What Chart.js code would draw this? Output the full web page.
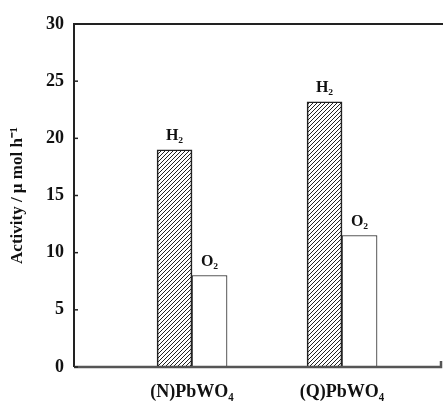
<!DOCTYPE html>
<html>
<head>
  <meta charset="UTF-8">
  <title>Activity</title>
  <script src="https://cdn.jsdelivr.net/npm/chart.js"></script>
  <style>
    html, body { margin: 0; padding: 0; background: #fff; }
    #wrap { width: 443px; height: 404px; }
  </style>
</head>
<body>
  <div id="wrap"><canvas id="c"></canvas></div>
  <script>
    const categories = ["(N)PbWO\u2084", "(Q)PbWO\u2084"];
    const h2Values = [19.0, 23.2];
    const o2Values = [8.0, 11.5];
    const seriesNames = ["H\u2082", "O\u2082"];
    const yTicks = [0, 5, 10, 15, 20, 25, 30];

    const serif = '"Liberation Serif", "Times New Roman", serif';

    // diagonal hatch for H2
    function hatch() {
      const p = document.createElement("canvas");
      p.width = 4; p.height = 4;
      const g = p.getContext("2d");
      g.strokeStyle = "#222";
      g.lineWidth = 1;
      g.beginPath();
      g.moveTo(0, 4); g.lineTo(4, 0);
      g.moveTo(-1, 1); g.lineTo(1, -1);
      g.moveTo(3, 5); g.lineTo(5, 3);
      g.stroke();
      return g.createPattern(p, "repeat");
    }

    const framePlugin = {
      id: "frame",
      afterDraw(chart) {
        const { ctx, chartArea: a, scales } = chart;
        ctx.save();
        ctx.strokeStyle = "#222";
        ctx.lineWidth = 2;
        ctx.beginPath();
        ctx.moveTo(a.right, a.top); ctx.lineTo(a.left, a.top); ctx.lineTo(a.left, a.bottom);
        ctx.stroke();
        ctx.strokeStyle = "#555";
        ctx.lineWidth = 2.5;
        ctx.beginPath();
        ctx.moveTo(a.left, a.bottom); ctx.lineTo(a.right - 2, a.bottom); ctx.lineTo(a.right - 2, a.bottom - 6);
        ctx.stroke();
        // inward y ticks
        ctx.strokeStyle = "#222";
        ctx.lineWidth = 1.5;
        yTicks.forEach(v => {
          const y = scales.y.getPixelForValue(v);
          ctx.beginPath(); ctx.moveTo(a.left, y); ctx.lineTo(a.left + 4, y); ctx.stroke();
        });
        // series labels above bars
        ctx.fillStyle = "#111";
        ctx.font = "bold 16px " + serif;
        ctx.textAlign = "center";
        ctx.textBaseline = "bottom";
        chart.data.datasets.forEach((ds, di) => {
          chart.getDatasetMeta(di).data.forEach(bar => {
            ctx.fillText(seriesNames[di], bar.x, bar.y - 6);
          });
        });
        ctx.restore();
      }
    };

    new Chart(document.getElementById("c"), {
      type: "bar",
      data: {
        datasets: [
          {
            label: seriesNames[0],
            data: h2Values.map((v, i) => ({ x: i + 1, y: v })),
            backgroundColor: hatch(),
            borderColor: "#222",
            borderWidth: 1,
            barThickness: 35
          },
          {
            label: seriesNames[1],
            data: o2Values.map((v, i) => ({ x: i + 1, y: v })),
            backgroundColor: "#fff",
            borderColor: "#222",
            borderWidth: 1,
            barThickness: 35
          }
        ]
      },
      options: {
        responsive: true,
        maintainAspectRatio: false,
        animation: false,
        layout: { padding: { top: 24, right: 0, left: 0, bottom: 0 } },
        plugins: { legend: { display: false }, tooltip: { enabled: false } },
        scales: {
          x: {
            type: "linear",
            offset: false,
            min: 0.213,
            max: 2.673,
            grid: { display: false },
            border: { display: false },
            afterBuildTicks: s => { s.ticks = categories.map((c, i) => ({ value: i + 1 })); },
            afterFit: s => { s.height = 37; },
            ticks: {
              autoSkip: false,
              maxRotation: 0,
              padding: 7,
              color: "#111",
              font: { family: serif, size: 18, weight: "bold" },
              callback: (v, i) => categories[i]
            }
          },
          y: {
            min: 0,
            max: 30,
            afterBuildTicks: s => { s.ticks = yTicks.map(v => ({ value: v })); },
            afterFit: s => { s.width = 74; },
            grid: { display: false, drawTicks: false },
            border: { display: false },
            title: {
              display: true,
              text: "Activity / \u03bc mol h\u207b\u00b9",
              color: "#111",
              font: { family: serif, size: 17, weight: "bold" },
              padding: { top: 7, bottom: 2 }
            },
            ticks: {
              padding: 10,
              color: "#111",
              font: { family: serif, size: 18, weight: "bold" }
            }
          }
        }
      },
      plugins: [framePlugin]
    });
  </script>
</body>
</html>
